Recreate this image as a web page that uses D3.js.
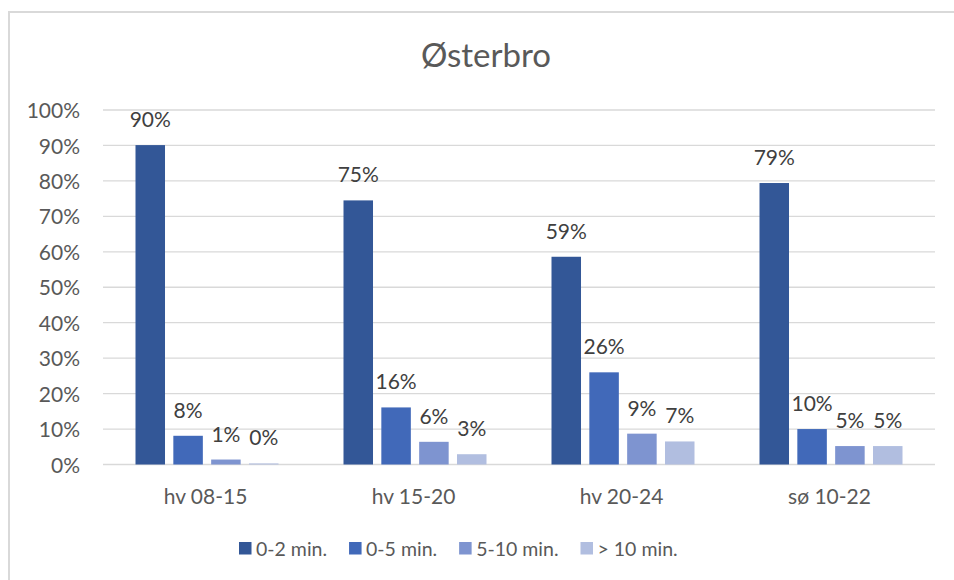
<!DOCTYPE html>
<html>
<head>
<meta charset="utf-8">
<script src="https://cdn.jsdelivr.net/npm/d3@7"></script>
<style>
  html, body { margin: 0; padding: 0; background: #fff; }
  svg { display: block; font-family: Lato, "Open Sans", sans-serif; }
</style>
</head>
<body>
<svg id="chart" width="954" height="580"></svg>
<script>
const title = "Østerbro";
const categories = ["hv 08-15", "hv 15-20", "hv 20-24", "sø 10-22"];
const seriesNames = ["0-2 min.", "0-5 min.", "5-10 min.", "> 10 min."];
const seriesColors = ["#335797", "#4169B9", "#7E94D0", "#B1BEE0"];
const s02 = [0.901, 0.745, 0.586, 0.794];
const s05 = [0.081, 0.161, 0.260, 0.100];
const s510 = [0.014, 0.064, 0.087, 0.052];
const s10 = [0.003, 0.029, 0.065, 0.052];
const yTicks = [0, 0.1, 0.2, 0.3, 0.4, 0.5, 0.6, 0.7, 0.8, 0.9, 1.0];

const seriesValues = [s02, s05, s510, s10];

const svg = d3.select("#chart");
const margin = { left: 103, right: 19, top: 110, bottom: 115.5 };
const W = 954, H = 580;
const FS = 21;

// outer chart border (only top and left visible)
svg.append("rect")
  .attr("x", 9).attr("y", 12)
  .attr("width", 1000).attr("height", 1000)
  .attr("fill", "#fff")
  .attr("stroke", "#d9d9d9").attr("stroke-width", 2);

const x0 = d3.scaleBand().domain(categories)
  .range([margin.left, W - margin.right]).paddingInner(0).paddingOuter(0);
const groupInner = 143;
const x1 = d3.scaleBand().domain(d3.range(seriesNames.length))
  .range([0, groupInner]).paddingInner(0.22).paddingOuter(0);
const y = d3.scaleLinear().domain([0, 1]).range([H - margin.bottom, margin.top]);

// title
svg.append("text")
  .attr("x", 486).attr("y", 67)
  .attr("text-anchor", "middle")
  .attr("font-size", 33)
  .attr("fill", "#595959")
  .text(title);

// grid lines
svg.append("g").selectAll("line").data(yTicks).join("line")
  .attr("x1", margin.left).attr("x2", W - margin.right)
  .attr("y1", d => y(d)).attr("y2", d => y(d))
  .attr("stroke", "#d9d9d9").attr("stroke-width", 1.3);

// y axis labels
const yAxis = d3.axisLeft(y).tickValues(yTicks).tickSize(0).tickPadding(0)
  .tickFormat(d3.format(".0%"));
const yg = svg.append("g").attr("transform", `translate(80,0)`).call(yAxis);
yg.select(".domain").remove();
yg.selectAll("text").attr("font-size", FS).attr("fill", "#595959")
  .attr("font-family", "Lato, 'Open Sans', sans-serif").attr("dy", "0.36em");

// x axis labels
const xAxis = d3.axisBottom(x0).tickSize(0).tickPadding(0);
const xg = svg.append("g").attr("transform", `translate(-1.5,${y(0)})`).call(xAxis);
xg.select(".domain").remove();
xg.selectAll("text").attr("font-size", FS).attr("fill", "#595959")
  .attr("font-family", "Lato, 'Open Sans', sans-serif").attr("dy", "39").attr("y", 0);

// bars
const groupOffset = (x0.bandwidth() - groupInner) / 2;
const groups = svg.append("g").selectAll("g").data(categories).join("g")
  .attr("transform", d => `translate(${x0(d) + groupOffset},0)`);

groups.each(function(cat, ci) {
  const g = d3.select(this);
  const data = seriesValues.map((vals, si) => ({ si, v: vals[ci] }));
  g.selectAll("rect").data(data).join("rect")
    .attr("x", d => x1(d.si))
    .attr("width", x1.bandwidth())
    .attr("y", d => y(d.v))
    .attr("height", d => y(0) - y(d.v))
    .attr("fill", d => seriesColors[d.si]);
  g.selectAll("text").data(data).join("text")
    .attr("x", d => x1(d.si) + x1.bandwidth() / 2)
    .attr("y", d => y(d.v) - 18)
    .attr("text-anchor", "middle")
    .attr("font-size", FS)
    .attr("fill", "#404040")
    .text(d => d3.format(".0%")(d.v));
});

// legend
const legend = svg.append("g");
let lx = 239;
seriesNames.forEach((name, i) => {
  legend.append("rect")
    .attr("x", lx).attr("y", 542).attr("width", 12.5).attr("height", 12.5)
    .attr("fill", seriesColors[i]);
  const t = legend.append("text")
    .attr("x", lx + 17).attr("y", 556)
    .attr("font-size", 19.5).attr("fill", "#595959")
    .text(name);
  lx += 17 + t.node().getComputedTextLength() + 22;
});
</script>
</body>
</html>
